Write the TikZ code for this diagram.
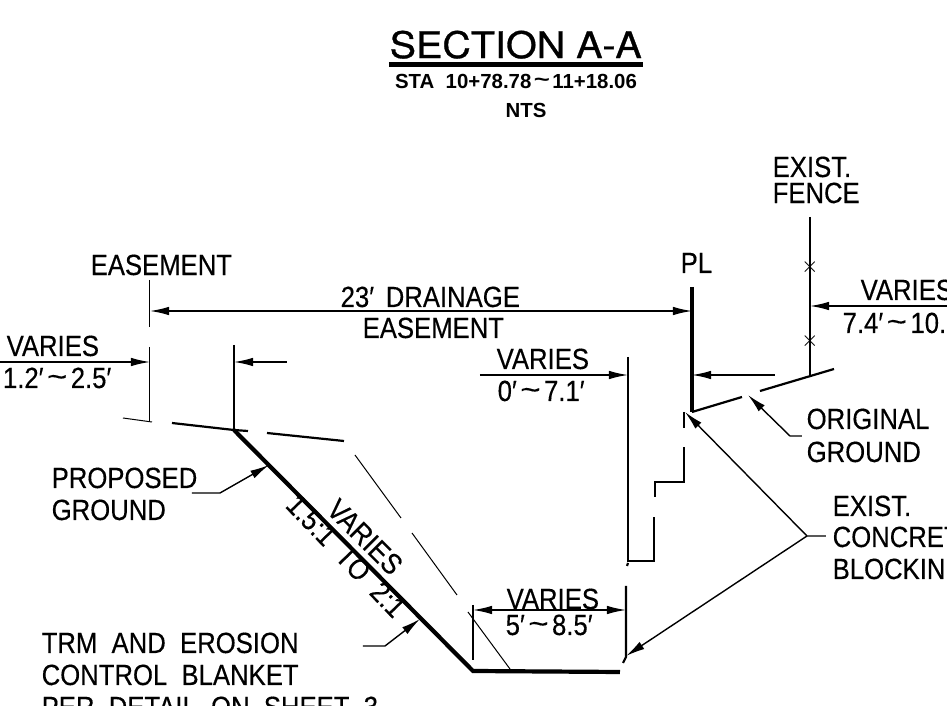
\documentclass[tikz,border=0pt]{standalone}
\usepackage{fontspec}
\setmainfont[FakeStretch=0.88,FakeBold=0.35]{Liberation Sans}
\newfontfamily\titlefont[FakeStretch=1.08,FakeBold=0.8]{TeX Gyre Heros}
\newfontfamily\subfont[FakeStretch=1.0]{Liberation Sans}
\newcommand{\tld}{\kern0.12em\raisebox{0.1ex}{\scalebox{1.35}[1.0]{\textasciitilde}}\kern0.12em}
\usetikzlibrary{arrows.meta}
\tikzset{
    mylabel/.style = {inner sep=0pt, anchor=base west, font=\fontsize{8.3}{10}\selectfont, text=black},
    mytitle/.style = {inner sep=0pt, anchor=base west, font=\fontsize{10.4}{14}\titlefont, text=black},
    mysmall/.style = {inner sep=0pt, anchor=base, font=\fontsize{5.8}{7}\subfont\bfseries, text=black},
    edgen/.style = {-,line width=0.22mm,black},
    edget/.style = {-,line width=0.1mm,black},
    edgeb/.style = {-,line width=0.32mm,black},
    edgea/.style = {-{Latex[length=1.9mm,width=0.85mm]},line width=0.14mm,black},
    edgeaa/.style = {{Latex[length=1.9mm,width=0.85mm]}-{Latex[length=1.9mm,width=0.85mm]},line width=0.14mm,black}
}
\begin{document}
\begin{tikzpicture}[x=0.01cm,y=-0.01cm]
  \useasboundingbox (0,0) rectangle (947,706);
  % titles
  \node[mytitle] (title) at (389,58) {SECTION A-A};
  \draw[line width=0.4mm] (389,64.5) -- (643,64.5);
  \node[mysmall] (sta) at (516,88) {STA\ \ 10+78.78\tld 11+18.06};
  \node[mysmall] (nts) at (526,117) {NTS};
  % points
  \coordinate (ease1) at (150,280);
  \coordinate (ease2) at (150,327);
  \coordinate (ease3) at (150,347);
  \coordinate (ease4) at (150,422);
  \coordinate (crest) at (234,430);
  \coordinate (crest2) at (234,345);
  \coordinate (toe) at (473,671);
  \coordinate (toe2) at (620,672);
  \coordinate (pl1) at (692,287);
  \coordinate (pl2) at (692,412);
  \coordinate (fence1) at (810,217);
  \coordinate (fence2) at (810,376);
  \coordinate (fork) at (807,536);
  % labels
  \node[mylabel] (easelab) at (90,275) {EASEMENT};
  \node[mylabel] (drain1) at (340,307) {23′\hspace{0.4em}DRAINAGE};
  \node[mylabel] (drain2) at (362,338) {EASEMENT};
  \node[mylabel] (varl) at (6,356) {VARIES};
  \node[mylabel,anchor=base east] (varlb) at (112,388) {1.2′\tld 2.5′};
  \node[mylabel] (pllab) at (680,273) {PL};
  \node[mylabel] (fence3) at (772,177) {EXIST.};
  \node[mylabel] (fence4) at (772,203) {FENCE};
  \node[mylabel] (varr) at (860,300) {VARIES};
  \node[mylabel] (varrb) at (842,333) {7.4′\tld 10.};
  \node[mylabel] (varm) at (496,369) {VARIES};
  \node[mylabel] (varmb) at (497,401) {0′\tld 7.1′};
  \node[mylabel] (orig1) at (806,429) {ORIGINAL};
  \node[mylabel] (orig2) at (806,462) {GROUND};
  \node[mylabel] (conc1) at (832,516) {EXIST.};
  \node[mylabel] (conc2) at (832,547) {CONCRET};
  \node[mylabel] (conc3) at (832,579) {BLOCKIN};
  \node[mylabel] (varb) at (506,609) {VARIES};
  \node[mylabel] (varbb) at (505,635) {5′\tld 8.5′};
  \node[mylabel] (prop1) at (51,488) {PROPOSED};
  \node[mylabel] (prop2) at (51,520) {GROUND};
  \node[mylabel] (trm1) at (41,653) {TRM\ \ AND\ \ EROSION};
  \node[mylabel] (trm2) at (41,685) {CONTROL\ \ BLANKET};
  \node[mylabel] (trm3) at (41,717) {PER\ \ DETAIL\ \ ON\ \ SHEET\ \ 3};
  \node[mylabel,anchor=center,rotate=-45] (slope1) at (365,537) {VARIES};
  \node[mylabel,anchor=center,rotate=-46] (slope2) at (346,556) {1.5:1\ \ TO\ \ 2:1};
  % easement and offset lines
  \draw[edget] (ease1) -- (ease2);
  \draw[edget] (ease3) -- (ease4);
  \draw[edgen] (crest2) -- (crest);
  \draw[edgeaa] (150,311) -- (692,311);
  \draw[edgea] (0,362) -- (150,362);
  \draw[edgea] (287,362) -- (234,362);
  \draw[edgea] (480,375) -- (628,375);
  \draw[edgea] (775,375) -- (692,375);
  \draw[edgea] (947,306) -- (810,306);
  \draw[edgeaa] (473,610) -- (626,610);
  \draw[edgeb] (pl1) -- (pl2);
  \draw[edgen] (fence1) -- (fence2);
  \node[inner sep=0pt,font=\fontsize{5}{5}\selectfont] (x1) at (810,267) {$\times$};
  \node[inner sep=0pt,font=\fontsize{5}{5}\selectfont] (x2) at (810,341) {$\times$};
  % ground
  \draw[edget] (123,418) -- (152,422);
  \draw[edgen] (172,423) -- (crest) -- (248,431);
  \draw[edgen] (267,433) -- (344,441);
  \draw[edget] (355,455) -- (401,518);
  \draw[edget] (412,533) -- (457,595);
  \draw[edget] (468,612) -- (510,669);
  \draw[edgen] (pl2) -- (742,397);
  \draw[edgen] (760,391) -- (834,369);
  \draw[line width=0.42mm] (crest) -- (toe) -- (toe2);
  % wall
  \draw[edgen] (628,357) -- (628,561) -- (654,561) -- (654,517);
  \draw[edgen] (655,497) -- (655,482) -- (684,482) -- (684,447);
  \draw[edgen] (684,412) -- (684,428);
  \draw[edgen] (628,563) -- (627,566);
  \draw[edgen] (626,586) -- (626,657) -- (623,663);
  \draw[edgen] (473,605) -- (473,660);
  % leaders
  \draw[edgea] (192,493) -- (220,493) -- (269,465);
  \draw[edgea] (363,646) -- (385,646) -- (420,619);
  \draw[edgea] (802,436) -- (790,436) -- (748,395);
  \draw[edgea] (826,536) -- (fork) -- (685,412);
  \draw[edgea] (fork) -- (626,656);
\end{tikzpicture}
\end{document}
